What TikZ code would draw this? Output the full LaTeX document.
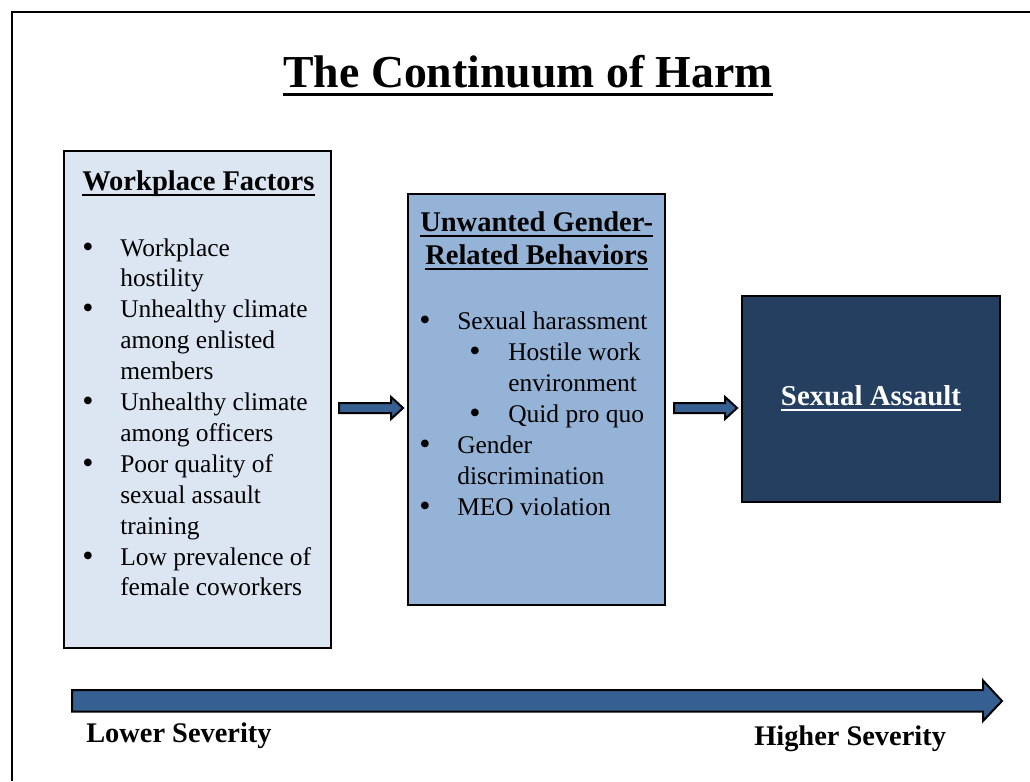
\documentclass[tikz,border=0pt]{standalone}
\usepackage{fontspec}
\setmainfont{Liberation Serif}
\usetikzlibrary{calc}
\definecolor{boxA}{HTML}{DCE6F2}
\definecolor{boxB}{HTML}{95B3D7}
\definecolor{boxC}{HTML}{243F60}
\definecolor{arrowblue}{HTML}{376092}
\begin{document}
\begin{tikzpicture}[x=0.75pt,y=-0.75pt,
  box/.style={draw=black,line width=1.6pt,minimum width={#1},inner sep=0pt},
  txt/.style={anchor=base west,inner sep=0pt,font=\fontsize{19.1}{23}\selectfont},
  bul/.style={anchor=base,inner sep=0pt,font=\fontsize{24}{23}\selectfont},
  head/.style={anchor=base west,inner sep=0pt,font=\fontsize{21.4}{25}\selectfont\bfseries},
  sev/.style={anchor=base west,inner sep=0pt,font=\fontsize{21.3}{25}\selectfont\bfseries},
  blk/.style={draw=black,line width=1.5pt,fill=arrowblue,line join=miter},
  uline/.style={line width=1.6pt}
]
\useasboundingbox (0,0) rectangle (1030,781);
% frame
\draw[line width=2.2pt] (12,781) -- (12,12) -- (1030,12);
% title
\node[anchor=base,inner sep=0pt,font=\fontsize{34.3}{40}\selectfont\bfseries] (title) at (528,88) {The Continuum of Harm};
\draw[line width=2.3pt] ([yshift=-5pt]title.base west) -- ([yshift=-5pt]title.base east);
% boxes
\node[box=200.25pt,minimum height=372.75pt,fill=boxA] (b1) at (197.5,399.5) {};
\node[box=192.75pt,minimum height=308.25pt,fill=boxB] (b2) at (536.5,399.5) {};
\node[box=193.5pt,minimum height=154.5pt,fill=boxC] (b3) at (871,399) {};
% box 1 heading
\node[head] (h1) at (82,190) {Workplace Factors};
\draw[uline] ([yshift=-4pt]h1.base west) -- ([yshift=-4pt]h1.base east);
% box 1 items
\foreach \t [count=\i] in {Workplace,hostility,Unhealthy climate,among enlisted,members,Unhealthy climate,among officers,Poor quality of,sexual assault,training,Low prevalence of,female coworkers}
  \node[txt] (wa\i) at (120,{256+30.9*(\i-1)}) {\t};
\foreach \i in {1,3,6,8,11}
  \node[bul] (wb\i) at (88,{257+30.9*(\i-1)}) {•};
% box 2 heading
\node[head] (h2a) at (420,231) {Unwanted Gender-};
\node[head] (h2b) at (425,264) {Related Behaviors};
\draw[uline] ([yshift=-4pt]h2a.base west) -- ([yshift=-4pt]h2a.base east);
\draw[uline] ([yshift=-4pt]h2b.base west) -- ([yshift=-4pt]h2b.base east);
% box 2 items
\node[bul] (ub1) at (425,330) {•};
\node[txt] (ut1) at (457,329) {Sexual harassment};
\node[bul] (ub2) at (475,361) {•};
\node[txt] (ut2) at (508,360) {Hostile work};
\node[txt] (ut3) at (508,391) {environment};
\node[bul] (ub4) at (475,423) {•};
\node[txt] (ut4) at (508,422) {Quid pro quo};
\node[bul] (ub5) at (425,454) {•};
\node[txt] (ut5) at (457,453) {Gender};
\node[txt] (ut6) at (457,484) {discrimination};
\node[bul] (ub7) at (425,516) {•};
\node[txt] (ut7) at (457,515) {MEO violation};
% box 3
\node[anchor=base,inner sep=0pt,text=white,font=\fontsize{21.6}{25}\selectfont\bfseries] (sa) at (871,405) {Sexual Assault};
\draw[uline,white] ([yshift=-4pt]sa.base west) -- ([yshift=-4pt]sa.base east);
% small arrows between boxes
\coordinate (a1) at ($(b1.east |- 0,408)+(7,0)$);
\coordinate (a2) at ($(b2.east |- 0,408)+(8,0)$);
\draw[blk] (a1) ++(0,-5) -- ++(52,0) -- ++(0,-6) -- ++(12,11) -- ++(-12,11) -- ++(0,-6) -- ++(-52,0) -- cycle;
\draw[blk] (a2) ++(0,-5) -- ++(51,0) -- ++(0,-6) -- ++(12,11) -- ++(-12,11) -- ++(0,-6) -- ++(-51,0) -- cycle;
% severity arrow
\coordinate (lo) at (72,700.5);
\coordinate (hi) at (1002,701);
\draw[blk] (lo) ++(0,-10.5) -- ++(911,0) -- ++(0,-9.5) -- (hi) -- ++(-19,20) -- ++(0,-9.5) -- ++(-911,0) -- cycle;
\node[sev] (low) at (86,742) {Lower Severity};
\node[sev] (high) at (754,745) {Higher Severity};
\end{tikzpicture}
\end{document}
